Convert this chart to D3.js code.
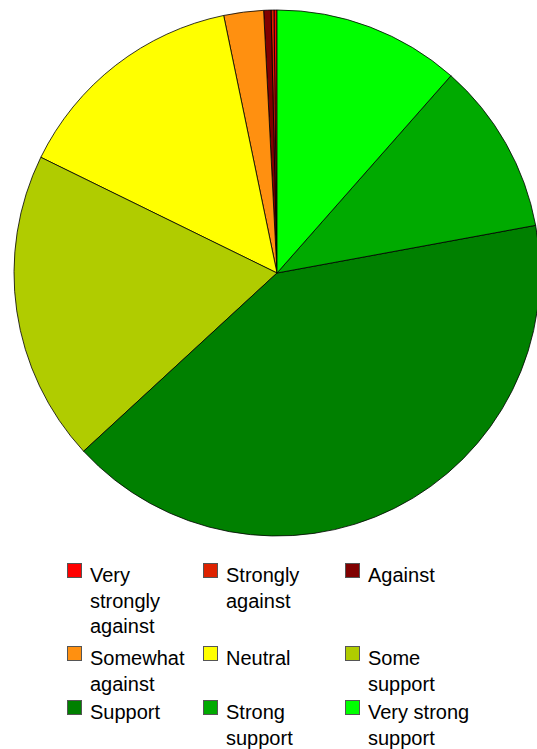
<!DOCTYPE html>
<html>
<head>
<meta charset="utf-8">
<script src="https://cdn.jsdelivr.net/npm/d3@7"></script>
<style>
  html, body { margin: 0; padding: 0; background: #fff; }
  svg { display: block; }
</style>
</head>
<body>
<svg id="chart" width="537" height="749"></svg>
<script>
const categories = ["Very strongly against", "Strongly against", "Against", "Somewhat against", "Neutral", "Some support", "Support", "Strong support", "Very strong support"];
const values = [0.18, 0.18, 0.45, 2.44, 14.5, 19.1, 41.05, 10.6, 11.5];
const colors = ["#ff0000", "#dd2200", "#800000", "#ff9010", "#ffff00", "#b0cc00", "#008000", "#00aa00", "#00ff00"];
const legendLines = [["Very", "strongly", "against"], ["Strongly", "against"], ["Against"], ["Somewhat", "against"], ["Neutral"], ["Some", "support"], ["Support"], ["Strong", "support"], ["Very strong", "support"]];

const svg = d3.select("#chart");
const cx = 277, cy = 273, r = 263;

const pie = d3.pie().sort(null).value(d => d.v).startAngle(0).endAngle(-2 * Math.PI);
const arcs = pie(categories.map((c, i) => ({ c, v: values[i], col: colors[i] })));
const arc = d3.arc().innerRadius(0).outerRadius(r);

const g = svg.append("g").attr("transform", `translate(${cx},${cy})`);
g.selectAll("path").data(arcs).join("path")
  .attr("d", arc)
  .attr("fill", d => d.data.col)
  .attr("stroke", "#000")
  .attr("stroke-width", 0.8)
  .attr("stroke-linejoin", "round");

// Legend
const colX = [67, 203, 345];
const rowTop = [563, 646, 700];
const lineH = 25.5;
const lg = svg.append("g");
categories.forEach((c, i) => {
  const col = i % 3, row = Math.floor(i / 3);
  const x = colX[col], y = rowTop[row];
  lg.append("rect")
    .attr("x", x + 0.5).attr("y", y + 0.5)
    .attr("width", 14).attr("height", 14)
    .attr("fill", colors[i])
    .attr("stroke", "#555").attr("stroke-width", 1);
  const t = lg.append("text")
    .attr("x", x + 23).attr("y", y + 19)
    .attr("font-family", "Liberation Sans, Arial, sans-serif")
    .attr("font-size", 20)
    .attr("fill", "#000");
  legendLines[i].forEach((ln, k) => {
    t.append("tspan").attr("x", x + 23).attr("y", y + 19 + k * lineH).text(ln);
  });
});
</script>
</body>
</html>
